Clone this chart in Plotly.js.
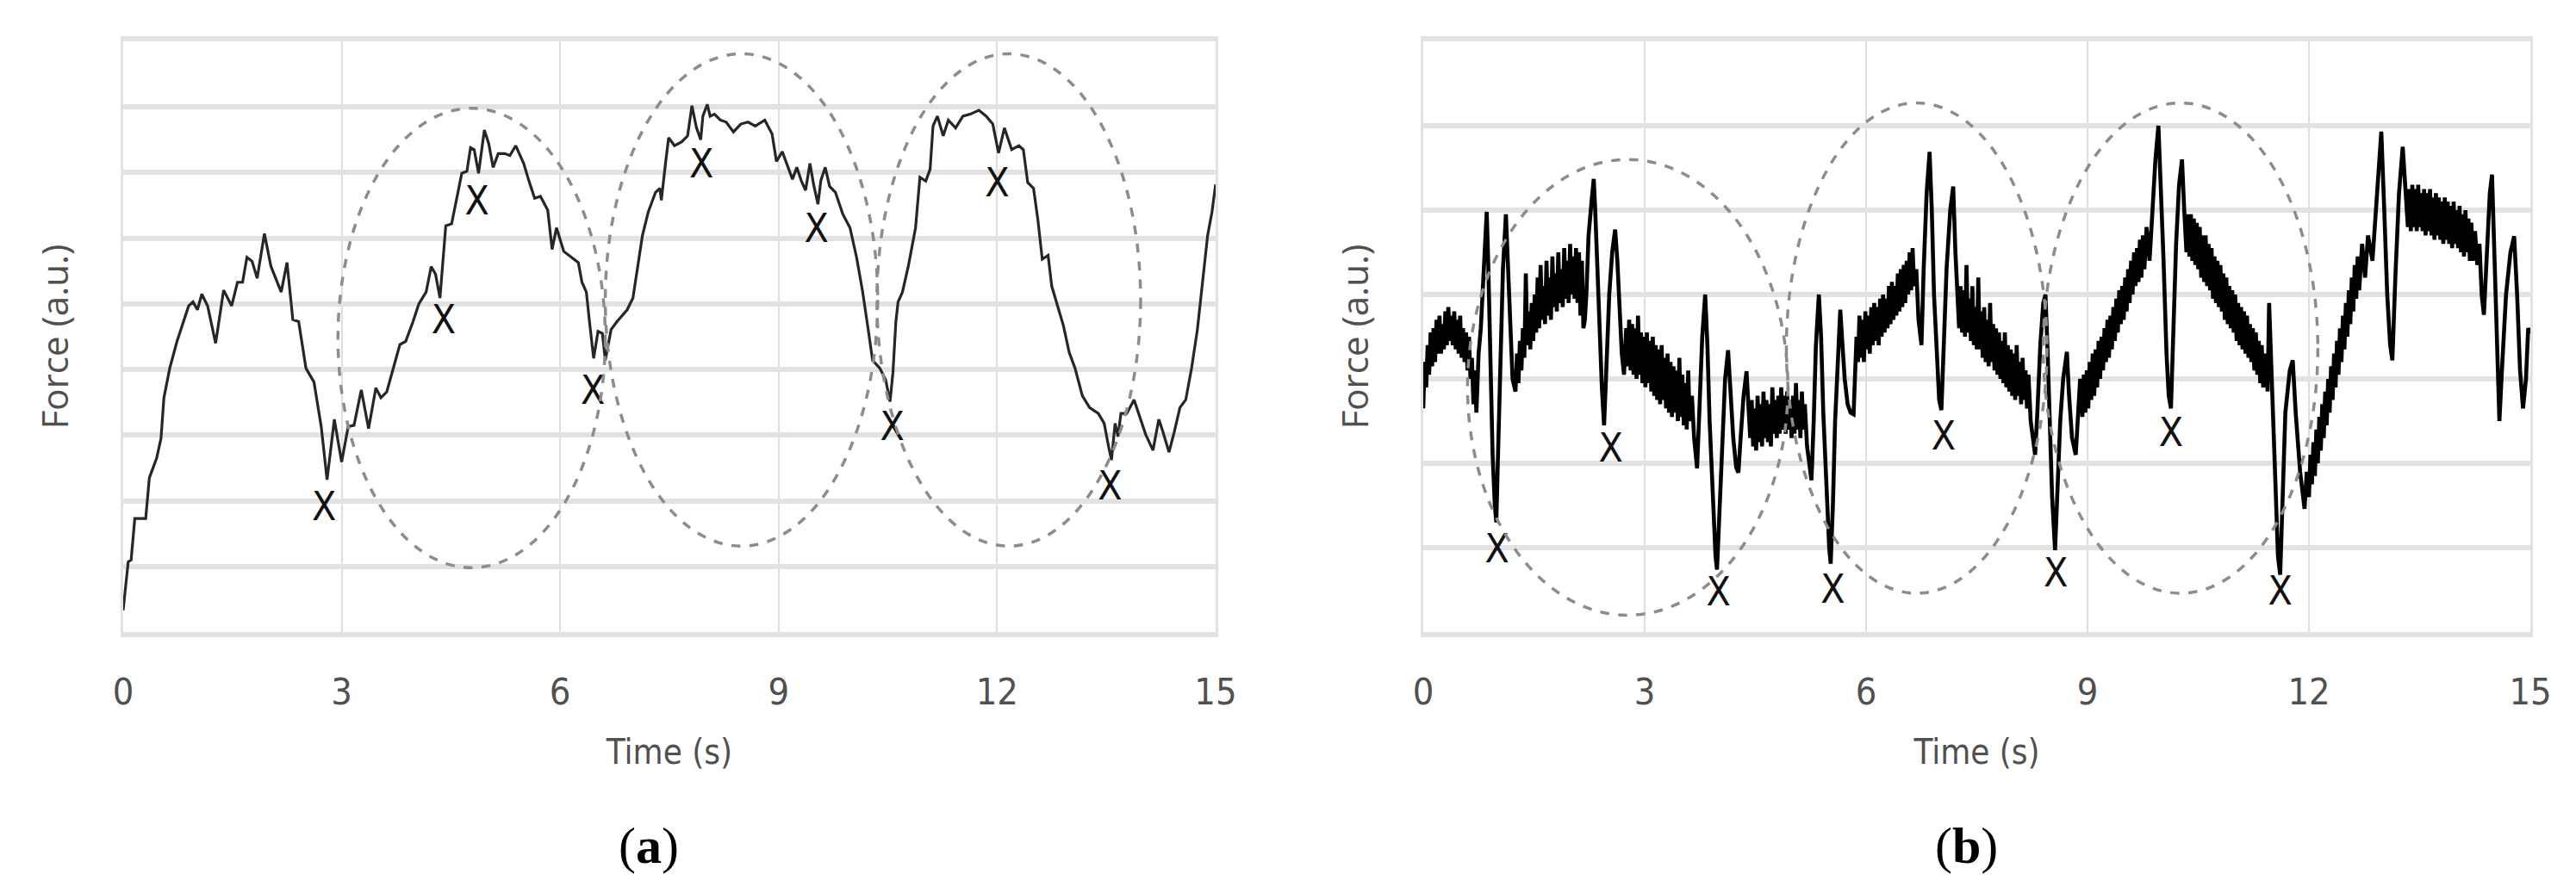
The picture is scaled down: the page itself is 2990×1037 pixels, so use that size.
<!DOCTYPE html>
<html>
<head>
<meta charset="utf-8">
<script src="https://cdn.plot.ly/plotly-3.0.1.min.js"></script>
<style>html,body{margin:0;padding:0;background:#fff;}#chart{width:2990px;height:1037px;}</style>
</head>
<body>
<div id="chart"></div>
<script>
// ---------- Panel (a) ----------
const timeA = [0.00,0.07,0.11,0.16,0.31,0.36,0.46,0.52,0.56,0.64,0.74,0.84,0.90,0.96,1.02,1.08,1.16,1.27,1.38,1.49,1.57,1.64,1.70,1.77,1.84,1.94,2.03,2.17,2.25,2.33,2.41,2.51,2.62,2.72,2.80,2.90,3.00,3.09,3.17,3.27,3.37,3.47,3.54,3.62,3.72,3.80,3.88,3.98,4.06,4.16,4.23,4.29,4.35,4.43,4.51,4.57,4.65,4.72,4.77,4.82,4.88,4.96,5.02,5.08,5.15,5.24,5.31,5.39,5.50,5.57,5.65,5.73,5.83,5.89,5.95,6.05,6.15,6.25,6.30,6.36,6.40,6.46,6.52,6.58,6.62,6.70,6.78,6.92,7.00,7.06,7.13,7.21,7.31,7.37,7.39,7.45,7.49,7.57,7.67,7.75,7.81,7.87,7.93,7.96,8.02,8.06,8.12,8.20,8.28,8.38,8.48,8.58,8.68,8.81,8.91,8.97,9.05,9.13,9.19,9.25,9.31,9.37,9.43,9.48,9.54,9.58,9.64,9.70,9.78,9.88,9.98,10.07,10.15,10.23,10.29,10.39,10.47,10.53,10.57,10.61,10.64,10.70,10.78,10.88,10.94,11.02,11.08,11.12,11.18,11.26,11.33,11.43,11.53,11.63,11.75,11.85,11.94,12.02,12.10,12.20,12.30,12.36,12.42,12.50,12.56,12.62,12.70,12.75,12.83,12.91,12.99,13.07,13.17,13.27,13.39,13.47,13.53,13.57,13.62,13.66,13.70,13.78,13.88,13.96,14.04,14.14,14.22,14.28,14.36,14.43,14.51,14.59,14.67,14.75,14.83,14.89,14.95,15.00];
const forceA = [0.33,1.07,1.10,1.73,1.73,2.35,2.65,2.95,3.57,4.02,4.43,4.76,4.97,5.03,4.91,5.15,4.97,4.40,5.21,4.97,5.33,5.33,5.71,5.65,5.39,6.07,5.57,5.18,5.63,4.76,4.73,4.02,3.81,3.13,2.32,3.24,2.59,3.13,3.15,3.69,3.10,3.72,3.57,3.66,4.08,4.38,4.43,4.73,5.00,5.18,5.57,5.45,5.09,6.19,6.22,6.55,6.99,7.02,7.38,7.35,6.99,7.65,7.44,7.08,7.29,7.29,7.26,7.41,7.14,6.88,6.61,6.64,6.43,5.83,6.16,5.80,5.71,5.63,5.33,5.18,4.76,4.17,4.58,4.55,4.14,4.61,4.73,4.91,5.09,5.51,6.04,6.40,6.70,6.76,6.58,7.17,7.53,7.41,7.47,7.56,8.02,7.69,7.50,7.86,8.04,7.86,7.89,7.80,7.77,7.62,7.74,7.77,7.71,7.80,7.59,7.17,7.32,7.08,6.90,7.08,6.88,6.73,7.14,6.82,6.52,6.88,7.08,6.79,6.70,6.37,6.16,5.71,5.21,4.61,4.14,4.02,3.84,3.51,3.96,4.73,5.03,5.18,5.57,6.16,6.93,6.87,7.05,7.71,7.86,7.56,7.80,7.68,7.86,7.89,7.95,7.86,7.74,7.30,7.68,7.35,7.41,7.35,6.85,6.76,6.28,5.68,5.74,5.27,4.97,4.67,4.26,4.02,3.60,3.42,3.33,3.18,2.83,2.62,3.18,2.98,3.33,3.33,3.54,3.27,3.01,2.77,3.24,3.04,2.74,3.04,3.42,3.54,4.02,4.61,5.39,6.04,6.40,6.82];
const markTimeA = [2.76,4.40,4.86,6.45,7.94,9.52,10.56,12.00,13.55];
const markForceA = [1.85,4.70,6.52,3.63,7.08,6.10,3.07,6.79,2.17];
// ellipses: [x-left, x-right, y-bottom, y-top]
const ellipsesA = [[2.95,6.62,0.98,7.98],[6.62,10.36,1.31,8.81],[10.35,13.97,1.31,8.81]];

// ---------- Panel (b) ----------
const timeB = [0.00,0.02,0.04,0.06,0.08,0.10,0.12,0.14,0.16,0.18,0.20,0.22,0.24,0.26,0.28,0.30,0.32,0.34,0.36,0.38,0.40,0.42,0.44,0.46,0.48,0.50,0.52,0.54,0.56,0.58,0.60,0.62,0.64,0.66,0.68,0.70,0.72,0.75,0.78,0.82,0.86,0.88,0.91,0.94,0.97,0.99,1.01,1.04,1.08,1.12,1.15,1.18,1.21,1.25,
1.27,1.29,1.31,1.33,1.35,1.37,1.39,1.41,1.43,1.45,1.47,1.49,1.51,1.53,1.55,1.57,1.59,1.61,1.63,1.65,1.67,1.69,1.71,1.73,1.75,1.77,1.79,1.81,1.83,1.85,1.87,1.89,1.91,1.93,1.95,1.97,1.99,2.01,2.03,2.05,2.07,2.09,2.11,2.13,2.15,2.17,2.19,2.21,2.24,2.28,2.31,2.33,2.36,2.39,2.42,2.45,2.48,2.52,2.56,2.60,2.63,2.66,2.69,2.72,2.75,2.77,
2.79,2.81,2.83,2.85,2.87,2.89,2.91,2.93,2.95,2.97,2.99,3.01,3.03,3.05,3.07,3.09,3.11,3.13,3.15,3.17,3.19,3.21,3.23,3.25,3.27,3.29,3.31,3.33,3.35,3.37,3.39,3.41,3.43,3.45,3.47,3.49,3.51,3.53,3.55,3.57,3.59,3.61,3.64,3.67,3.71,3.74,3.78,3.82,3.85,3.88,3.92,3.96,3.98,4.01,4.05,4.09,4.13,4.16,4.20,4.24,4.27,4.30,4.34,4.38,4.41,
4.43,4.45,4.47,4.49,4.51,4.53,4.55,4.57,4.59,4.61,4.63,4.65,4.67,4.69,4.71,4.73,4.75,4.77,4.79,4.81,4.83,4.85,4.87,4.89,4.91,4.93,4.95,4.97,4.99,5.01,5.03,5.05,5.07,5.09,5.11,5.13,5.15,5.17,5.20,5.23,5.26,5.29,5.32,5.36,5.39,5.42,5.46,5.50,5.52,5.55,5.58,5.62,5.65,5.68,5.71,5.75,5.79,5.83,5.85,5.87,5.89,
5.91,5.93,5.95,5.97,5.99,6.01,6.03,6.05,6.07,6.09,6.11,6.13,6.15,6.17,6.19,6.21,6.23,6.25,6.27,6.29,6.31,6.33,6.35,6.37,6.39,6.41,6.43,6.45,6.47,6.49,6.51,6.53,6.55,6.57,6.59,6.61,6.63,6.65,6.68,6.71,6.75,6.78,6.82,6.86,6.89,6.92,6.96,6.99,7.02,7.05,7.09,7.14,7.18,7.21,7.24,
7.26,7.28,7.30,7.32,7.34,7.36,7.38,7.40,7.42,7.44,7.46,7.48,7.50,7.52,7.54,7.56,7.58,7.60,7.62,7.64,7.66,7.68,7.70,7.72,7.74,7.76,7.78,7.80,7.82,7.84,7.86,7.88,7.90,7.92,7.94,7.96,7.98,8.00,8.02,8.04,8.06,8.08,8.10,8.12,8.14,8.16,8.18,8.20,8.23,8.26,8.29,8.32,8.36,8.40,8.43,8.46,8.49,8.52,8.56,8.59,8.63,8.67,8.72,8.75,8.79,8.84,8.87,8.90,
8.93,8.95,8.97,8.99,9.01,9.03,9.05,9.07,9.09,9.11,9.13,9.15,9.17,9.19,9.21,9.23,9.25,9.27,9.29,9.31,9.33,9.35,9.37,9.39,9.41,9.43,9.45,9.47,9.49,9.51,9.53,9.55,9.57,9.59,9.61,9.63,9.65,9.67,9.69,9.71,9.73,9.75,9.77,9.80,9.84,9.88,9.92,9.96,9.99,10.03,10.07,10.10,10.13,10.16,10.20,10.24,10.28,10.31,10.34,10.36,
10.38,10.40,10.42,10.44,10.46,10.48,10.50,10.52,10.54,10.56,10.58,10.60,10.62,10.64,10.66,10.68,10.70,10.72,10.74,10.76,10.78,10.80,10.82,10.84,10.86,10.88,10.90,10.92,10.94,10.96,10.98,11.00,11.02,11.04,11.06,11.08,11.10,11.12,11.14,11.16,11.18,11.20,11.22,11.24,11.26,11.28,11.30,11.32,11.34,11.36,11.38,11.41,11.44,11.46,11.50,11.54,11.58,11.61,11.64,11.68,11.74,11.78,11.82,11.88,11.94,11.97,
12.00,12.02,12.04,12.06,12.08,12.10,12.12,12.14,12.16,12.18,12.20,12.22,12.24,12.26,12.28,12.30,12.32,12.34,12.36,12.38,12.40,12.42,12.44,12.46,12.48,12.50,12.52,12.54,12.56,12.58,12.60,12.62,12.64,12.66,12.68,12.72,12.76,12.80,12.86,12.92,12.98,13.02,13.06,13.10,13.13,13.17,13.22,13.27,13.31,13.34,
13.36,13.38,13.40,13.42,13.44,13.46,13.48,13.50,13.52,13.54,13.56,13.58,13.60,13.62,13.64,13.66,13.68,13.70,13.72,13.74,13.76,13.78,13.80,13.82,13.84,13.86,13.88,13.90,13.92,13.94,13.96,13.98,14.00,14.02,14.04,14.06,14.08,14.10,14.12,14.14,14.16,14.18,14.20,14.22,14.25,14.28,14.31,14.34,14.37,14.41,14.45,14.48,14.51,14.55,14.58,14.62,14.67,14.73,14.78,14.82,14.86,14.90,14.94,14.97,15.00];
const forceB = [2.65,3.20,2.90,3.40,3.05,3.55,3.15,3.60,3.20,3.70,3.30,3.75,3.30,3.65,3.35,3.80,3.40,3.85,3.45,3.75,3.40,3.80,3.35,3.70,3.30,3.75,3.25,3.60,3.20,3.55,3.10,3.50,3.00,3.25,2.70,3.10,2.60,3.30,3.60,4.30,4.98,4.40,3.00,2.10,1.50,1.30,2.00,3.20,4.30,4.95,4.20,3.50,3.00,2.85,
3.30,2.95,3.45,3.10,3.60,3.25,4.25,3.40,3.80,3.35,3.90,3.45,4.00,3.55,4.20,3.60,4.35,3.70,4.10,3.65,4.40,3.75,4.20,3.70,4.45,3.85,4.25,3.80,4.50,3.90,4.30,3.85,4.55,3.95,4.40,3.90,4.60,4.00,4.45,3.95,4.55,3.90,4.50,3.75,4.40,3.60,3.70,4.00,4.70,5.10,5.37,5.00,4.40,3.60,2.90,2.45,3.10,4.00,4.50,4.77,4.40,3.80,3.30,3.05,3.60,3.15,
3.70,3.10,3.65,3.05,3.60,3.00,3.75,3.05,3.55,2.95,3.50,2.90,3.55,2.95,3.45,2.85,3.50,2.80,3.40,2.75,3.35,2.70,3.40,2.75,3.25,2.65,3.30,2.60,3.20,2.55,3.15,2.60,3.10,2.50,3.25,2.55,3.05,2.45,2.95,2.40,3.10,2.50,2.80,2.30,1.94,2.60,3.50,4.00,3.40,2.50,1.60,0.90,0.74,1.40,2.30,3.00,3.34,2.80,2.30,1.95,1.89,2.30,2.80,3.09,2.60,
2.30,2.75,2.20,2.65,2.15,2.80,2.25,2.70,2.20,2.85,2.30,2.75,2.25,2.70,2.20,2.90,2.35,2.75,2.30,2.80,2.35,2.90,2.40,2.80,2.35,2.85,2.40,2.75,2.30,2.80,2.35,2.95,2.40,2.75,2.30,2.85,2.40,2.70,2.20,2.00,1.80,2.50,3.40,4.00,3.50,2.60,1.70,1.00,0.81,1.50,2.50,3.40,3.82,3.40,3.00,2.70,2.60,2.58,3.00,3.50,3.20,
3.75,3.25,3.70,3.20,3.80,3.35,3.75,3.30,3.85,3.40,3.90,3.45,3.85,3.40,3.95,3.50,4.00,3.55,3.95,3.60,4.10,3.65,4.15,3.70,4.10,3.75,4.25,3.80,4.30,3.85,4.35,3.90,4.40,4.00,4.50,4.05,4.55,4.10,4.30,3.70,3.40,4.30,5.20,5.69,5.00,4.00,3.20,2.75,2.63,3.30,4.30,5.00,5.28,4.50,3.90,
3.60,4.10,3.55,4.05,3.50,4.35,3.55,3.95,3.45,4.10,3.40,3.85,3.35,4.20,3.35,3.80,3.25,3.85,3.20,3.70,3.15,3.90,3.20,3.65,3.10,3.60,3.05,3.55,3.00,3.45,2.95,3.55,2.90,3.40,2.85,3.35,2.80,3.30,2.75,3.40,2.80,3.20,2.70,3.25,2.75,3.10,2.65,3.05,2.50,2.30,2.10,2.60,3.40,3.90,4.00,3.30,2.40,1.60,0.97,1.60,2.50,3.00,3.32,2.80,2.30,2.10,2.50,3.00,
2.55,3.05,2.60,3.10,2.65,3.20,2.75,3.30,2.80,3.35,2.90,3.45,3.00,3.50,3.10,3.60,3.20,3.70,3.25,3.75,3.35,3.85,3.45,3.95,3.55,4.05,3.65,4.10,3.70,4.20,3.80,4.30,3.90,4.40,4.00,4.50,4.10,4.55,4.15,4.65,4.20,4.70,4.30,4.80,4.40,5.00,5.60,6.00,5.40,4.40,3.30,2.80,2.65,3.50,4.60,5.30,5.60,5.00,4.50,4.95,
4.45,4.95,4.40,4.90,4.35,4.85,4.30,4.80,4.20,4.70,4.15,4.70,4.10,4.60,4.05,4.55,3.95,4.45,3.90,4.40,3.85,4.35,3.80,4.25,3.70,4.20,3.65,4.10,3.60,4.05,3.55,4.00,3.45,3.90,3.40,3.85,3.35,3.80,3.30,3.75,3.25,3.65,3.20,3.60,3.10,3.55,3.05,3.45,2.95,3.40,2.90,3.30,2.85,3.90,3.00,1.80,0.90,0.68,1.50,2.60,3.10,3.22,2.60,1.90,1.46,1.90,
1.60,2.10,1.75,2.25,1.85,2.40,2.00,2.55,2.15,2.70,2.30,2.85,2.45,3.00,2.60,3.15,2.75,3.30,2.90,3.45,3.05,3.60,3.20,3.75,3.35,3.90,3.50,4.05,3.65,4.20,3.80,4.35,3.95,4.45,4.05,4.60,4.20,4.70,4.40,5.20,5.93,5.00,4.00,3.40,3.22,4.20,5.20,5.75,5.20,4.80,
5.25,4.75,5.30,4.80,5.25,4.75,5.30,4.80,5.20,4.75,5.25,4.70,5.20,4.75,5.25,4.70,5.15,4.65,5.20,4.70,5.15,4.65,5.10,4.60,5.15,4.65,5.10,4.60,5.05,4.55,5.10,4.60,5.00,4.55,5.05,4.50,4.95,4.45,5.00,4.50,4.90,4.40,4.85,4.40,4.75,4.35,4.60,4.00,3.76,4.60,5.20,5.42,4.50,3.30,2.50,3.20,4.00,4.50,4.69,4.00,3.10,2.65,3.00,3.60,3.54];
const markTimeB = [1.00,2.54,4.00,5.55,7.05,8.57,10.13,11.61];
const markForceB = [0.94,2.14,0.43,0.46,2.28,0.66,2.32,0.44];
const ellipsesB = [[0.60,4.94,0.20,5.60],[4.92,8.45,0.46,6.27],[8.40,12.12,0.46,6.27]];

const xTicks = [0,3,6,9,12,15];
const xTickText = ['0','3','6','9','12','15'];

const fam = '"Liberation Sans Narrow", "DejaVu Sans Condensed", "Roboto Condensed", "Open Sans", sans-serif';
const tickFont = {family:fam, size:43, color:'#505050'};
const xTitleFont = {family:fam, size:40, color:'#505050'};
const yTitleFont = {family:'"Open Sans", sans-serif', size:42, color:'#505050'};

function ellipseShapes(list, xr, yr){
  return list.map(e => ({type:'circle', xref:xr, yref:yr, x0:e[0], x1:e[1], y0:e[2], y1:e[3],
    line:{color:'#8c8c8c', width:3.5, dash:'dash'}, fillcolor:'rgba(0,0,0,0)', layer:'above'}));
}

const markFont = {family:fam, size:46, color:'#111111'};
const traces = [
  {x:timeA, y:forceA, xaxis:'x', yaxis:'y', mode:'lines', line:{color:'#262626', width:3.2}, hoverinfo:'skip'},
  {x:markTimeA, y:markForceA, xaxis:'x', yaxis:'y', mode:'text', text:markTimeA.map(()=> 'X'),
   textposition:'middle center', textfont:markFont, hoverinfo:'skip'},
  {x:timeB, y:forceB, xaxis:'x2', yaxis:'y2', mode:'lines', line:{color:'#000000', width:4.6}, hoverinfo:'skip'},
  {x:markTimeB, y:markForceB, xaxis:'x2', yaxis:'y2', mode:'text', text:markTimeB.map(()=> 'X'),
   textposition:'middle center', textfont:markFont, hoverinfo:'skip'}
];

function xAxis(domain, anchor){
  return {domain:domain, anchor:anchor, range:[0,15], tickvals:xTicks, ticktext:xTickText,
    showgrid:true, gridcolor:'#dedede', gridwidth:2, zeroline:false,
    showline:true, linecolor:'#e2e2e2', linewidth:6, mirror:true,
    ticks:'', ticklabelstandoff:26, tickfont:tickFont,
    title:{text:'Time (s)', font:xTitleFont, standoff:34}, fixedrange:true};
}
function yAxis(domain, anchor, top){
  return {domain:domain, anchor:anchor, range:[0,top], dtick:1, tick0:0,
    showgrid:true, gridcolor:'#e2e2e2', gridwidth:6, zeroline:false,
    showline:true, linecolor:'#e2e2e2', linewidth:3, mirror:true,
    showticklabels:false, ticks:'',
    title:{text:'Force (a.u.)', font:yTitleFont, standoff:48}, fixedrange:true};
}

const yDom = [0.2922, 0.9537];
const layout = {
  width:2990, height:1037,
  margin:{l:0, r:0, t:0, b:0, pad:0},
  paper_bgcolor:'#ffffff', plot_bgcolor:'#ffffff',
  showlegend:false,
  xaxis: xAxis([0.0478,0.4719], 'y'),
  yaxis: yAxis(yDom, 'x', 9),
  xaxis2: xAxis([0.5525,0.9823], 'y2'),
  yaxis2: yAxis(yDom, 'x2', 7),
  shapes: ellipseShapes(ellipsesA,'x','y').concat(ellipseShapes(ellipsesB,'x2','y2')),
  annotations:[
    {xref:'paper', yref:'paper', x:0.2518, y:0.053, text:'(<b>a</b>)', showarrow:false,
     font:{family:'"Liberation Serif", "DejaVu Serif", serif', size:60, color:'#000'}, xanchor:'center', yanchor:'middle'},
    {xref:'paper', yref:'paper', x:0.7635, y:0.053, text:'(<b>b</b>)', showarrow:false,
     font:{family:'"Liberation Serif", "DejaVu Serif", serif', size:60, color:'#000'}, xanchor:'center', yanchor:'middle'}
  ]
};

Plotly.newPlot('chart', traces, layout, {displayModeBar:false, staticPlot:true});
</script>
</body>
</html>
